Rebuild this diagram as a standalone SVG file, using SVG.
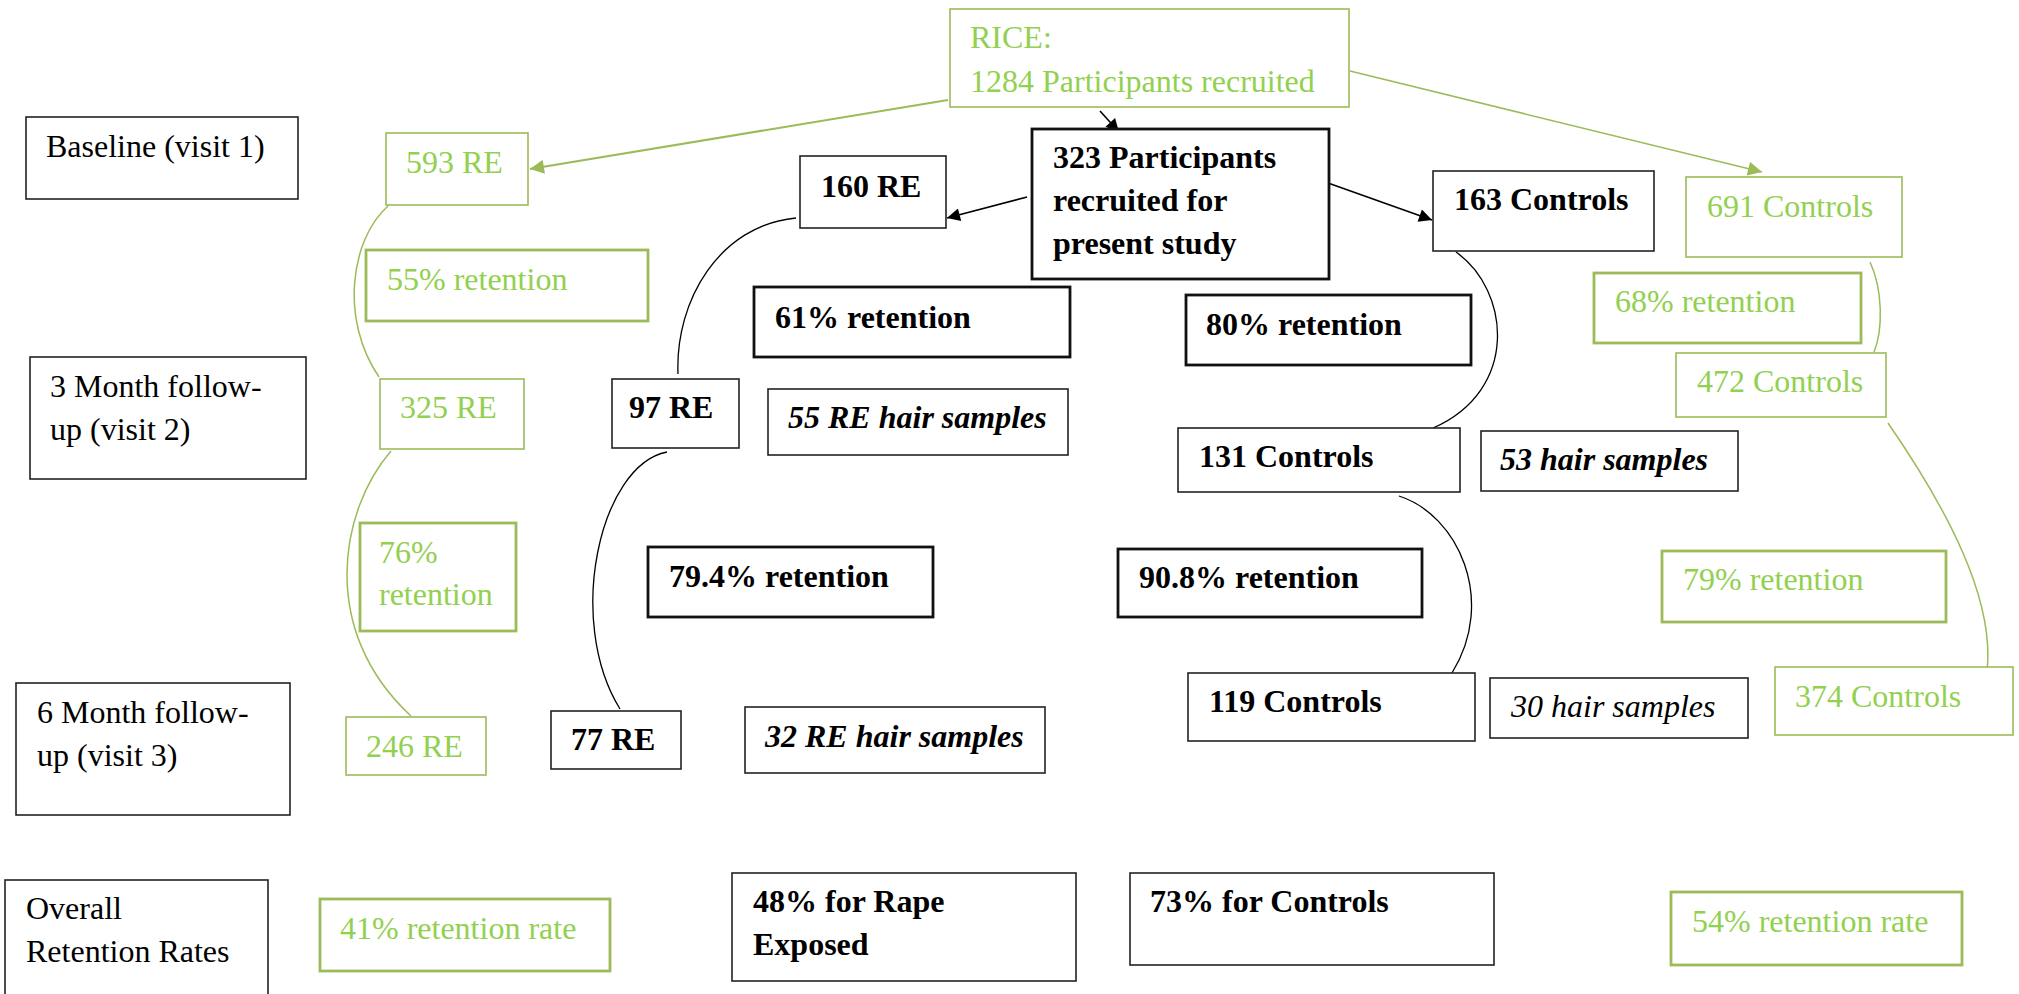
<svg xmlns="http://www.w3.org/2000/svg" width="2019" height="994" viewBox="0 0 2019 994">
<style>
  text { font-family: "Liberation Serif", "Times New Roman", serif; font-size: 32px; }
  .k { fill: #000; }
  .g { fill: #92d050; }
  .b { font-weight: bold; }
  .i { font-style: italic; }
  .bk { fill: #fff; stroke: #222; stroke-width: 1.6; }
  .bk2 { fill: #fff; stroke: #111; stroke-width: 2.8; }
  .gr { fill: #fff; stroke: #9bbb59; stroke-width: 1.6; }
  .gr2 { fill: #fff; stroke: #9bbb59; stroke-width: 2.8; }
  .cg { fill: none; stroke: #9bbb59; stroke-width: 1.5; }
  .ck { fill: none; stroke: #000; stroke-width: 1.3; }
  .ag { fill: none; stroke: #9bbb59; stroke-width: 2; }
  .ak { fill: none; stroke: #000; stroke-width: 1.6; }
</style>
<defs>
  <marker id="mg" viewBox="0 0 10 10" refX="10" refY="5" markerWidth="16" markerHeight="14" markerUnits="userSpaceOnUse" orient="auto">
    <path d="M0,0 L10,5 L0,10 z" fill="#9bbb59"/>
  </marker>
  <marker id="mk" viewBox="0 0 10 10" refX="10" refY="5" markerWidth="16" markerHeight="13" markerUnits="userSpaceOnUse" orient="auto">
    <path d="M0,0 L10,5 L0,10 z" fill="#000"/>
  </marker>
</defs>
<rect width="2019" height="994" fill="#fff"/>

<g id="connectors">
  <line class="ag" x1="948" y1="100" x2="530" y2="169" marker-end="url(#mg)"/>
  <line class="ag" x1="1350" y1="71" x2="1762" y2="172" style="stroke-width:1.5" marker-end="url(#mg)"/>
  <line class="ak" x1="1100" y1="111" x2="1119" y2="132" marker-end="url(#mk)"/>
  <line class="ak" x1="1027" y1="197" x2="947" y2="218" marker-end="url(#mk)"/>
  <line class="ak" x1="1328" y1="183" x2="1432" y2="220" marker-end="url(#mk)"/>
  <path class="cg" d="M388,206 C350,240 340,320 379,377"/>
  <path class="cg" d="M391,451 C340,510 318,630 411,716"/>
  <path class="ck" d="M796,218 C720,225 675,300 678,374"/>
  <path class="ck" d="M667,452 C600,465 565,620 620,709"/>
  <path class="ck" d="M1456,252 C1510,290 1520,390 1433,428"/>
  <path class="ck" d="M1399,496 C1458,515 1497,600 1452,673"/>
  <path class="cg" d="M1870,262 C1883,290 1883,330 1874,352"/>
  <path class="cg" d="M1888,423 C1948,510 1995,600 1987,671"/>
</g>

<g id="baseline"><rect class="bk" x="26" y="117" width="272" height="82"/><text class="k" x="46" y="157">Baseline (visit 1)</text></g>
<g id="month3"><rect class="bk" x="30" y="357" width="276" height="122"/><text class="k" x="50" y="397">3 Month follow-</text><text class="k" x="50" y="440">up (visit 2)</text></g>
<g id="month6"><rect class="bk" x="16" y="683" width="274" height="132"/><text class="k" x="37" y="723">6 Month follow-</text><text class="k" x="37" y="766">up (visit 3)</text></g>
<g id="overall"><rect class="bk" x="5" y="880" width="263" height="130"/><text class="k" x="26" y="919">Overall</text><text class="k" x="26" y="962">Retention Rates</text></g>

<g id="rice"><rect class="gr" x="950" y="9" width="399" height="98"/><text class="g" x="970" y="48">RICE:</text><text class="g" x="970" y="92">1284 Participants recruited</text></g>
<g id="re593"><rect class="gr" x="386" y="133" width="142" height="72"/><text class="g" x="406" y="173">593 RE</text></g>
<g id="ret55"><rect class="gr2" x="366" y="250" width="282" height="71"/><text class="g" x="387" y="290">55% retention</text></g>
<g id="re325"><rect class="gr" x="380" y="379" width="144" height="70"/><text class="g" x="400" y="418">325 RE</text></g>
<g id="ret76"><rect class="gr2" x="360" y="523" width="156" height="108"/><text class="g" x="379" y="563">76%</text><text class="g" x="379" y="605">retention</text></g>
<g id="re246"><rect class="gr" x="346" y="717" width="140" height="58"/><text class="g" x="366" y="757">246 RE</text></g>
<g id="rate41"><rect class="gr2" x="320" y="899" width="290" height="72"/><text class="g" x="340" y="939">41% retention rate</text></g>

<g id="p323"><rect class="bk2" x="1032" y="129" width="297" height="150"/><text class="k b" x="1053" y="168">323 Participants</text><text class="k b" x="1053" y="211">recruited for</text><text class="k b" x="1053" y="254">present study</text></g>
<g id="re160"><rect class="bk" x="800" y="156" width="146" height="72"/><text class="k b" x="821" y="197">160 RE</text></g>
<g id="ret61"><rect class="bk2" x="754" y="287" width="316" height="70"/><text class="k b" x="775" y="328">61% retention</text></g>
<g id="re97"><rect class="bk" x="612" y="379" width="127" height="69"/><text class="k b" x="629" y="418">97 RE</text></g>
<g id="hair55"><rect class="bk" x="768" y="389" width="300" height="66"/><text class="k b i" x="788" y="428">55 RE hair samples</text></g>
<g id="ret794"><rect class="bk2" x="648" y="547" width="285" height="70"/><text class="k b" x="669" y="587">79.4% retention</text></g>
<g id="re77"><rect class="bk" x="551" y="711" width="130" height="58"/><text class="k b" x="571" y="750">77 RE</text></g>
<g id="hair32"><rect class="bk" x="745" y="707" width="300" height="66"/><text class="k b i" x="765" y="747">32 RE hair samples</text></g>
<g id="rate48"><rect class="bk" x="732" y="873" width="344" height="108"/><text class="k b" x="753" y="912">48% for Rape</text><text class="k b" x="753" y="955">Exposed</text></g>

<g id="c163"><rect class="bk" x="1433" y="171" width="221" height="80"/><text class="k b" x="1454" y="210">163 Controls</text></g>
<g id="ret80"><rect class="bk2" x="1186" y="295" width="285" height="70"/><text class="k b" x="1206" y="335">80% retention</text></g>
<g id="c131"><rect class="bk" x="1178" y="428" width="282" height="64"/><text class="k b" x="1199" y="467">131 Controls</text></g>
<g id="hair53"><rect class="bk" x="1481" y="431" width="257" height="60"/><text class="k b i" x="1500" y="470">53 hair samples</text></g>
<g id="ret908"><rect class="bk2" x="1118" y="549" width="304" height="68"/><text class="k b" x="1139" y="588">90.8% retention</text></g>
<g id="c119"><rect class="bk" x="1188" y="673" width="287" height="68"/><text class="k b" x="1209" y="712">119 Controls</text></g>
<g id="hair30"><rect class="bk" x="1490" y="678" width="258" height="60"/><text class="k i" x="1511" y="717">30 hair samples</text></g>
<g id="rate73"><rect class="bk" x="1130" y="873" width="364" height="92"/><text class="k b" x="1150" y="912">73% for Controls</text></g>

<g id="c691"><rect class="gr" x="1686" y="177" width="216" height="80"/><text class="g" x="1707" y="217">691 Controls</text></g>
<g id="ret68"><rect class="gr2" x="1594" y="273" width="267" height="70"/><text class="g" x="1615" y="312">68% retention</text></g>
<g id="c472"><rect class="gr" x="1676" y="353" width="210" height="64"/><text class="g" x="1697" y="392">472 Controls</text></g>
<g id="ret79"><rect class="gr2" x="1662" y="551" width="284" height="71"/><text class="g" x="1683" y="590">79% retention</text></g>
<g id="c374"><rect class="gr" x="1775" y="667" width="238" height="68"/><text class="g" x="1795" y="707">374 Controls</text></g>
<g id="rate54"><rect class="gr2" x="1671" y="892" width="291" height="73"/><text class="g" x="1692" y="932">54% retention rate</text></g>
</svg>
